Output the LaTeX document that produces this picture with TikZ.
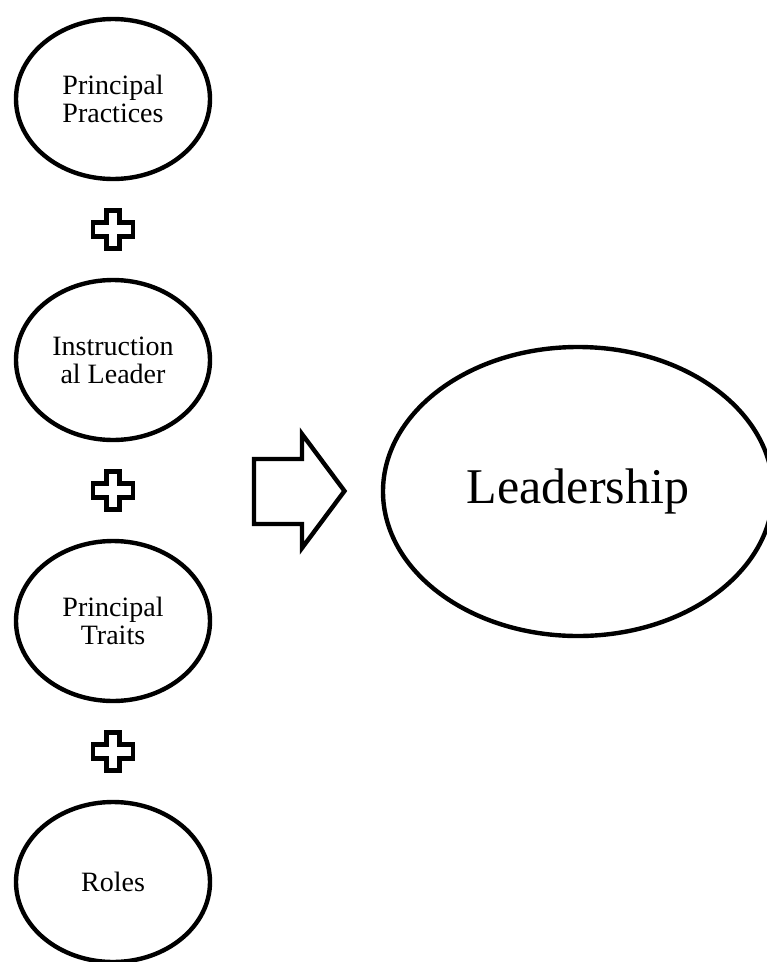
\documentclass[tikz,border=0pt]{standalone}
\usepackage{fontspec}
\setmainfont{Liberation Serif}
\usetikzlibrary{shapes.geometric,calc}
\begin{document}
\begin{tikzpicture}[x=1pt,y=-1pt,
  bubble/.style={ellipse, draw=black, line width=4.4pt, minimum width=194pt, minimum height=160pt,
    inner sep=0pt, align=center, font=\fontsize{28}{28}\selectfont},
  bigbubble/.style={ellipse, draw=black, line width=4.4pt, minimum width=390pt, minimum height=289pt,
    inner sep=0pt, align=center, font=\fontsize{50}{50}\selectfont},
  outline/.style={draw=black, line width=4.4pt, line join=miter},
  plussign/.pic={\path[outline] (-6.5,-19) -- (6.5,-19) -- (6.5,-7) -- (20,-7) -- (20,7) -- (6.5,7)
    -- (6.5,19) -- (-6.5,19) -- (-6.5,7) -- (-20,7) -- (-20,-7) -- (-6.5,-7) -- cycle;}]
\path[use as bounding box, clip] (0,0) rectangle (767,962);
\node[bubble] (pp) at (113,99) {Principal\\Practices};
\node[bubble] (il) at (113,360) {Instruction\\al Leader};
\node[bubble] (pt) at (113,621) {Principal\\Traits};
\node[bubble] (ro) at (113,882) {Roles};
\node[bigbubble] (le) at (578,491.5) {Leadership};
\pic at ($(pp)!0.5!(il)$) {plussign};
\pic at ($(il)!0.5!(pt)$) {plussign};
\pic at ($(pt)!0.5!(ro)$) {plussign};
\path[outline] (254,459) -- (302,459) -- (302,434) -- (344.5,491) -- (302,548) -- (302,524) -- (254,524) -- cycle;
\end{tikzpicture}
\end{document}
